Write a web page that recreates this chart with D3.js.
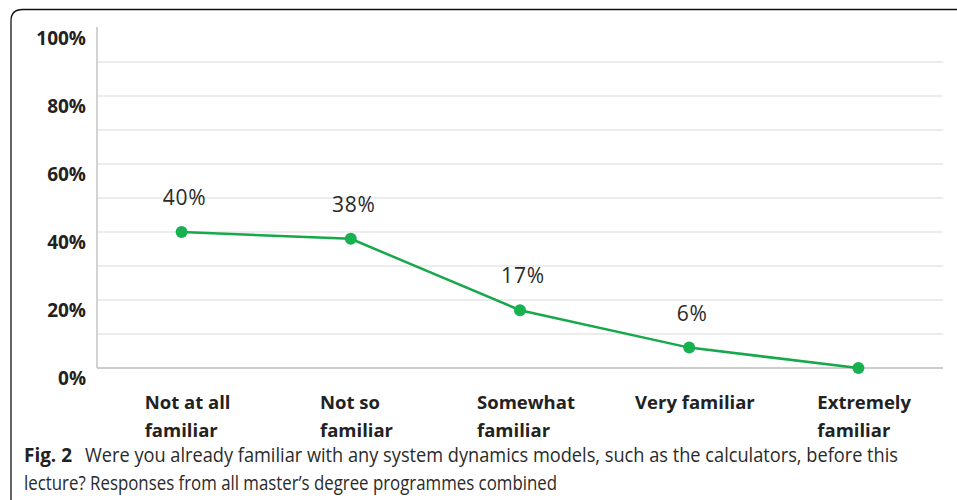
<!DOCTYPE html>
<html>
<head>
<meta charset="utf-8">
<script src="https://cdn.jsdelivr.net/npm/d3@7"></script>
<style>
  body { margin: 0; background: #fff; }
  svg { display: block; }
</style>
</head>
<body>
<svg id="chart"></svg>
<script>
const width = 957, height = 500;

// data
const categories = ["Not at all familiar", "Not so familiar", "Somewhat familiar", "Very familiar", "Extremely familiar"];
const labelLines = [["Not at all", "familiar"], ["Not so", "familiar"], ["Somewhat", "familiar"], ["Very familiar"], ["Extremely", "familiar"]];
const values = [40, 38, 17, 6, 0];
const valueLabels = ["40%", "38%", "17%", "6%", ""];
const yTicks = [0, 20, 40, 60, 80, 100];
const gridTicks = [10, 20, 30, 40, 50, 60, 70, 80, 90];
const captionBold = "Fig. 2";
const captionLines = [
  "Were you already familiar with any system dynamics models, such as the calculators, before this",
  "lecture? Responses from all master\u2019s degree programmes combined"
];

const svg = d3.select("#chart")
    .attr("width", width)
    .attr("height", height)
    .attr("viewBox", [0, 0, width, height]);

// frame with rounded top-left corner
svg.append("path")
    .attr("d", "M11,500 V21 Q11,9.5 22.5,9.5 H957")
    .attr("fill", "none")
    .attr("stroke", "#111")
    .attr("stroke-width", 1.3);

const margin = {left: 97, right: 14, top: 28, bottom: 132};
const x = d3.scaleBand()
    .domain(categories)
    .range([margin.left, width - margin.right]);
const y = d3.scaleLinear()
    .domain([0, 100])
    .range([height - margin.bottom, margin.top]);

const chartFont = "'Open Sans', sans-serif";

// gridlines
svg.append("g")
    .selectAll("line")
    .data(gridTicks)
    .join("line")
    .attr("x1", margin.left)
    .attr("x2", width - margin.right)
    .attr("y1", d => y(d))
    .attr("y2", d => y(d))
    .attr("stroke", "#e6e6e6")
    .attr("stroke-width", 1.5);

// axis lines
svg.append("line")
    .attr("x1", margin.left).attr("x2", margin.left)
    .attr("y1", margin.top - 1).attr("y2", y(0))
    .attr("stroke", "#c4c4c4").attr("stroke-width", 1.5);
svg.append("line")
    .attr("x1", margin.left).attr("x2", width - margin.right)
    .attr("y1", y(0)).attr("y2", y(0))
    .attr("stroke", "#bdbdbd").attr("stroke-width", 1.5);

// y tick labels (sit a little below their gridline)
svg.append("g")
    .selectAll("text")
    .data(yTicks)
    .join("text")
    .attr("x", 86)
    .attr("y", d => y(d) + 17)
    .attr("text-anchor", "end")
    .attr("font-family", chartFont)
    .attr("font-weight", "bold")
    .attr("font-size", 19)
    .attr("fill", "#222")
    .text(d => d + "%");

// line + points
const cx = d => x(d) + x.bandwidth() / 2;
const line = d3.line()
    .x((d, i) => cx(categories[i]))
    .y(d => y(d));

svg.append("path")
    .datum(values)
    .attr("d", line)
    .attr("fill", "none")
    .attr("stroke", "#17a84b")
    .attr("stroke-width", 2.5);

svg.append("g")
    .selectAll("circle")
    .data(values)
    .join("circle")
    .attr("cx", (d, i) => cx(categories[i]))
    .attr("cy", d => y(d))
    .attr("r", 6)
    .attr("fill", "#17b14f");

// value labels
svg.append("g")
    .selectAll("text")
    .data(values)
    .join("text")
    .attr("x", (d, i) => cx(categories[i]) + 3)
    .attr("y", d => y(d) - 27)
    .attr("text-anchor", "middle")
    .attr("font-family", chartFont)
    .attr("font-size", 21)
    .attr("font-weight", 500)
    .attr("letter-spacing", 0.8)
    .attr("fill", "#2a2a2a")
    .text((d, i) => valueLabels[i]);

// x category labels, lines left aligned, block centred on the category
const xl = svg.append("g")
    .selectAll("g")
    .data(categories)
    .join("g")
    .attr("transform", d => `translate(${cx(d) + 6},0)`);
xl.each(function(d, i) {
    const g = d3.select(this);
    const t = g.append("text")
        .attr("font-family", chartFont)
        .attr("font-weight", "bold")
        .attr("font-size", 18.5)
        .attr("fill", "#222");
    labelLines[i].forEach((s, j) => {
        t.append("tspan").attr("y", 409 + j * 28).attr("x", 0).text(s);
    });
    const w = t.node().getBBox().width;
    t.attr("transform", `translate(${-w / 2},0)`);
});

// caption (condensed face, fitted to the reference width)
const capFont = "'Liberation Sans Narrow', 'Open Sans', sans-serif";
svg.append("text")
    .attr("x", 24).attr("y", 462)
    .attr("font-family", chartFont)
    .attr("font-weight", "bold")
    .attr("font-size", 19)
    .attr("fill", "#222")
    .attr("textLength", 48)
    .attr("lengthAdjust", "spacingAndGlyphs")
    .text(captionBold);
svg.append("text")
    .attr("x", 85).attr("y", 462)
    .attr("font-family", capFont)
    .attr("font-size", 20)
    .attr("fill", "#2a2a2a")
    .attr("textLength", 813)
    .attr("lengthAdjust", "spacingAndGlyphs")
    .text(captionLines[0]);
svg.append("text")
    .attr("x", 24).attr("y", 490)
    .attr("font-family", capFont)
    .attr("font-size", 20)
    .attr("fill", "#2a2a2a")
    .attr("textLength", 533)
    .attr("lengthAdjust", "spacingAndGlyphs")
    .text(captionLines[1]);
</script>
</body>
</html>
